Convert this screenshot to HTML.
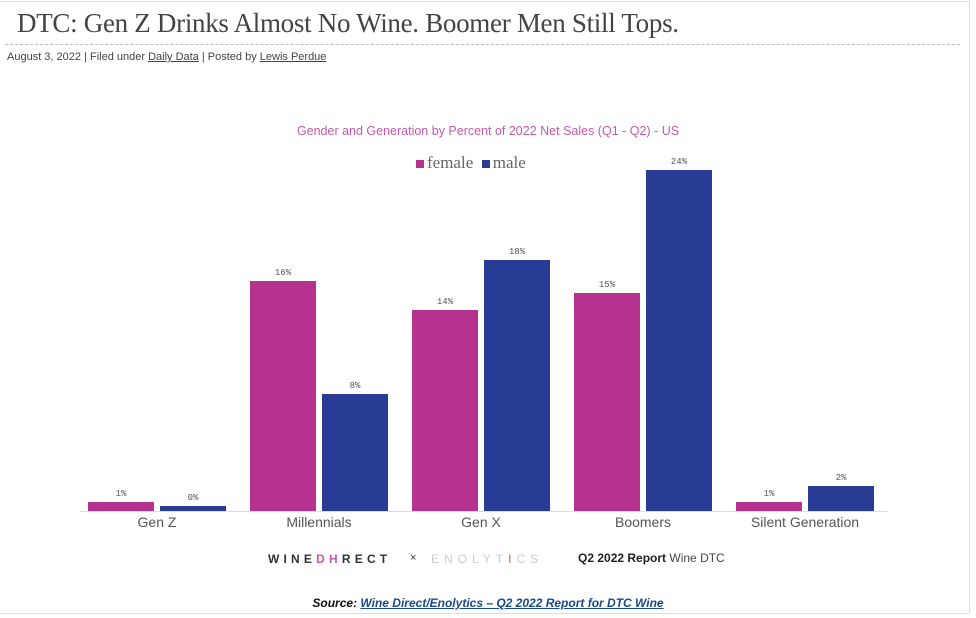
<!DOCTYPE html>
<html><head><meta charset="utf-8"><style>
body{margin:0;width:976px;height:618px;background:#fff;position:relative;overflow:hidden;font-family:"Liberation Sans",sans-serif}
.a{position:absolute}
.bar{position:absolute}
.f{background:#b5338f}.m{background:#283c96}
.lbl{position:absolute;font-family:"Liberation Mono",monospace;font-size:9px;color:#555;width:66px;text-align:center}
.cat{position:absolute;font-size:14px;color:#555;width:162px;text-align:center;top:514px}
</style></head><body>
<div class="a" style="left:0;top:1px;width:969px;height:1px;background:#ddd"></div>
<div class="a" style="left:969px;top:1px;width:1px;height:612px;background:#ddd"></div>
<div class="a" style="left:0;top:613px;width:969px;height:1px;background:#ddd"></div>
<div class="a" style="left:17px;top:8px;font-family:'Liberation Serif',serif;font-size:27px;color:#444;letter-spacing:-0.3px">DTC: Gen Z Drinks Almost No Wine. Boomer Men Still Tops.</div>
<div class="a" style="left:5px;top:44px;width:955px;border-top:1px dashed #bbb"></div>
<div class="a" style="left:7px;top:51px;font-size:11px;color:#444">August 3, 2022 | Filed under <u>Daily Data</u> | Posted by <u>Lewis Perdue</u></div>
<div class="a" style="left:0;width:976px;top:124px;text-align:center;font-size:12.5px;color:#c45aaa">Gender and Generation by Percent of 2022 Net Sales (Q1 - Q2) - US</div>
<div class="a" style="left:416px;top:153px;font-family:'Liberation Serif',serif;font-size:17px;color:#666"><span style="display:inline-block;width:8px;height:8px;background:#b5338f;margin-right:3px"></span>female &nbsp;<span style="display:inline-block;width:8px;height:8px;background:#283c96;margin-right:3px"></span>male</div>
<div class="a" style="left:80px;top:511px;width:808px;height:1px;background:#ddd"></div>
<div class="bar f" style="left:88px;top:502px;width:66px;height:9px"></div><div class="lbl" style="left:88px;top:489px">1%</div>
<div class="bar m" style="left:160px;top:506px;width:66px;height:5px"></div><div class="lbl" style="left:160px;top:493px">0%</div>
<div class="bar f" style="left:250px;top:281px;width:66px;height:230px"></div><div class="lbl" style="left:250px;top:268px">16%</div>
<div class="bar m" style="left:322px;top:394px;width:66px;height:117px"></div><div class="lbl" style="left:322px;top:381px">8%</div>
<div class="bar f" style="left:412px;top:310px;width:66px;height:201px"></div><div class="lbl" style="left:412px;top:297px">14%</div>
<div class="bar m" style="left:484px;top:260px;width:66px;height:251px"></div><div class="lbl" style="left:484px;top:247px">18%</div>
<div class="bar f" style="left:574px;top:293px;width:66px;height:218px"></div><div class="lbl" style="left:574px;top:280px">15%</div>
<div class="bar m" style="left:646px;top:170px;width:66px;height:341px"></div><div class="lbl" style="left:646px;top:157px">24%</div>
<div class="bar f" style="left:736px;top:502px;width:66px;height:9px"></div><div class="lbl" style="left:736px;top:489px">1%</div>
<div class="bar m" style="left:808px;top:486px;width:66px;height:25px"></div><div class="lbl" style="left:808px;top:473px">2%</div>
<div class="cat" style="left:76px">Gen Z</div>
<div class="cat" style="left:238px">Millennials</div>
<div class="cat" style="left:400px">Gen X</div>
<div class="cat" style="left:562px">Boomers</div>
<div class="cat" style="left:724px">Silent Generation</div>
<div class="a" style="left:268px;top:552px;font-size:12px;letter-spacing:4.2px;color:#333;font-weight:bold">WINE<span style="color:#c45aaa">DH</span>RECT</div>
<div class="a" style="left:410px;top:552px;font-size:11px;color:#333">×</div>
<div class="a" style="left:431px;top:552px;font-size:12px;letter-spacing:5px;color:#ccc">ENOLYT<span style="color:#e0603a">I</span>CS</div>
<div class="a" style="left:578px;top:551px;font-size:12px;color:#222"><b>Q2 2022 Report</b> <span style="color:#444">Wine DTC</span></div>
<div class="a" style="left:0;width:976px;top:596px;text-align:center;font-size:12px;font-weight:bold;font-style:italic;color:#111">Source: <u style="color:#1a4a8a">Wine Direct/Enolytics – Q2 2022 Report for DTC Wine</u></div>
</body></html>
